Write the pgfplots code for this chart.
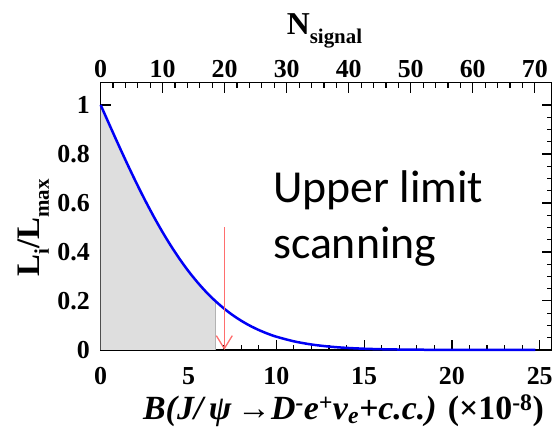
\documentclass[border=0pt]{standalone}
\usepackage{fontspec}
\setmainfont{Liberation Serif}
\newfontfamily\calibri{Carlito}
\usepackage{pgfplots}
\pgfplotsset{compat=1.18}
\usetikzlibrary{arrows.meta}

\definecolor{curveblue}{RGB}{0,0,245}
\definecolor{limred}{RGB}{255,110,110}
\definecolor{shade}{RGB}{222,222,222}

% likelihood scan
\pgfplotstableread{
b     l
0     1
0.5   0.9192
1     0.8395
1.5   0.7617
2     0.6866
2.5   0.6149
3     0.5472
3.5   0.4837
4     0.4249
4.5   0.3707
5     0.3214
5.5   0.2769
6     0.2369
6.5   0.2015
7     0.1702
7.5   0.1428
8     0.1191
8.5   0.0986
9     0.0812
9.5   0.0664
10    0.0539
11    0.0349
12    0.0220
13    0.0135
14    0.0081
15    0.0047
16    0.0026
17    0.0014
18    0.0007
19    0.0003
20    0.0002
22    0.0000
24.75 0.0000
}\scan

\newcommand\tickfont{\fontsize{26}{26}\selectfont\bfseries}

\begin{document}
\begin{tikzpicture}
\pgfplotsset{
  every axis/.append style={
    scale only axis, width=451bp, height=267.3bp,
    at={(0,0)}, anchor=south west,
    axis line style={line width=1.5bp},
    every tick/.style={black, line width=1.2bp},
    major tick length=10bp, minor tick length=5bp,
    tick align=inside,
    /pgf/number format/assume math mode=true,
    tick label style={font=\tickfont, inner sep=0pt},
  },
}
\begin{axis}[
  xmin=0, xmax=25.67, ymin=0, ymax=1.091,
  xtick={0,5,...,25}, minor x tick num=4,
  ytick={0,0.2,...,1}, minor y tick num=3,
  xtick pos=left, ytick pos=both, yticklabel pos=left,
  xticklabel style={yshift=-17bp},
  yticklabel style={xshift=-10.7bp},
  clip=false,
]
\addplot[fill=shade, draw=none] coordinates {
  (0,1) (0.5,0.9192) (1,0.8395) (1.5,0.7617) (2,0.6866) (2.5,0.6149)
  (3,0.5472) (3.5,0.4837) (4,0.4249) (4.5,0.3707) (5,0.3214)
  (5.5,0.2769) (6,0.2369) (6.5,0.2015) (6.5,0) (0,0)} --cycle;
\addplot[gray!60, line width=0.5bp] coordinates {(6.5,0) (6.5,0.2015)};
\addplot[curveblue, line width=2.5bp, smooth] table[x=b, y=l] {\scan};
\addplot[limred, line width=1.3bp, -{Straight Barb[length=13bp,width=16bp,line width=1.3bp]}]
  coordinates {(7.04,0.5) (7.04,0)};
\end{axis}
\begin{axis}[
  xmin=0, xmax=72.7, ymin=0, ymax=1,
  axis x line*=top, axis y line=none,
  xtick={0,10,...,70}, minor x tick num=4,
  xticklabel style={yshift=4.4bp},
]
\end{axis}
% texts
\node[anchor=base west, inner sep=0pt] at (186bp,315bp)
  {\fontsize{32}{32}\selectfont\bfseries N\raisebox{-9bp}{\fontsize{21}{21}\selectfont signal}};
\node[rotate=90, anchor=base, inner sep=0pt] at (-60.7bp,122bp)
  {\fontsize{33}{33}\selectfont\bfseries L\raisebox{-9bp}{\fontsize{21}{21}\selectfont i}/L\raisebox{-9bp}{\fontsize{21}{21}\selectfont max}};
\node[anchor=base west, inner sep=0pt] at (42.3bp,-70bp)
  {\fontsize{34}{34}\selectfont\bfseries\itshape B(J/\,ψ\,→D\textsuperscript{-}e\textsuperscript{+}ν\textsubscript{e}+c.c.) \upshape(×10\textsuperscript{-8})};
\node[anchor=base west, inner sep=0pt] at (172.3bp,147.3bp)
  {\calibri\fontsize{46}{56}\selectfont Upper limit};
\node[anchor=base west, inner sep=0pt] at (172.3bp,91.3bp)
  {\calibri\fontsize{46}{56}\selectfont scanning};
\pgfresetboundingbox
\path[use as bounding box] (-100.7bp,-79bp) rectangle (454.5bp,350bp);
\end{tikzpicture}
\end{document}
